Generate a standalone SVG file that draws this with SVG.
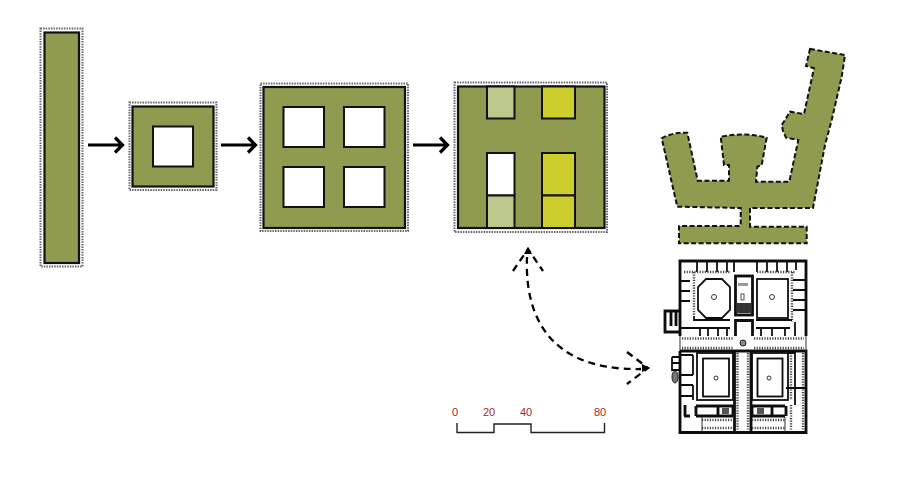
<svg xmlns="http://www.w3.org/2000/svg" width="914" height="484" viewBox="0 0 914 484">
<style>
.dot{fill:none;stroke:#666;stroke-width:2;stroke-dasharray:1.500 1.100}
.mass{fill:#919b4f;stroke:#111;stroke-width:2.200}
.hole{fill:#fff;stroke:#111;stroke-width:2}
.lt{fill:#bcc78c;stroke:#111;stroke-width:2}
.yl{fill:#cdcd2e;stroke:#111;stroke-width:2}
.arr{fill:none;stroke:#000;stroke-width:3.200}
.dash{fill:none;stroke:#000;stroke-width:2.300;stroke-dasharray:7 5}
.scale{fill:none;stroke:#222;stroke-width:1.400}
.num{font:11px "Liberation Sans",Arial,sans-serif;fill:#a32a25;text-anchor:middle}
.w{fill:none;stroke:#111;stroke-width:1.800}
.b{fill:none;stroke:#111;stroke-width:2.800}
.t{fill:none;stroke:#333;stroke-width:1}
.c{fill:none;stroke:#444;stroke-width:2.400;stroke-dasharray:1.200 1.400}
</style>
<defs><filter id="soft" x="-5%" y="-5%" width="110%" height="110%"><feGaussianBlur stdDeviation="0.4"/></filter></defs>
<g id="block-1"><rect class="dot" x="40.500" y="28.500" width="42" height="238"/><rect class="mass" x="44.500" y="32.500" width="34.500" height="230.500"/></g>
<g id="block-2"><rect class="dot" x="129.500" y="102.500" width="87" height="87.500"/><rect class="mass" x="132.500" y="106.500" width="81" height="80"/><rect class="hole" x="153" y="126.500" width="40" height="40"/></g>
<g id="block-3"><rect class="dot" x="260.500" y="83.500" width="147.500" height="147.500"/><rect class="mass" x="263.500" y="87" width="141.500" height="141"/><rect class="hole" x="283.500" y="107" width="40.500" height="40"/><rect class="hole" x="344" y="107" width="40.500" height="40"/><rect class="hole" x="283.500" y="167" width="40.500" height="40"/><rect class="hole" x="344" y="167" width="40.500" height="40"/></g>
<g id="block-4"><rect class="dot" x="454.500" y="82.500" width="152.500" height="149.500"/><rect class="mass" x="458" y="86.500" width="146.500" height="141.500"/><rect class="lt" x="487" y="86.500" width="27.500" height="32"/><rect class="yl" x="542" y="86.500" width="33" height="32"/><rect class="hole" x="487" y="153" width="27.500" height="42.500"/><rect class="lt" x="487" y="195.500" width="27.500" height="32.500"/><rect class="yl" x="542" y="153" width="33" height="42.500"/><rect class="yl" x="542" y="195.500" width="33" height="32.500"/></g>
<g id="site-outline"><path d="M810 49 L845 55 L841.700 76.700 L831.700 120 L825 145 L813 208 L750 208 L750 226.700 L806.700 226.700 L806.700 243.300 L679 243.300 L679 226 L740.700 226 L740.700 208 L677.300 206.700 L661.700 138.300 Q673 132 687.300 132.700 L697.700 180.700 L729 180.700 L729 165 L724 165 L720.700 136.700 Q745 132 766.700 137.700 L761.700 165 L757.300 166.700 L756 181.700 L789.300 181.700 L798.300 140 L786 137.700 L783 131 L781.700 125 L785 120 L790 111.700 L804 114 L814 68.300 L806 66 Z" fill="#919b4f" stroke="#111" stroke-width="2" stroke-dasharray="5 2.500"/></g>
<g id="floor-plan" filter="url(#soft)">
<path class="b" d="M680 336V261H806V336"/>
<path class="b" d="M680 351H806V432.500H680V351"/>
<path class="t" d="M680 336V351M806 336V351"/>
<path class="b" d="M680 311H665V332H680M671 311V326M676 311V326"/>
<path class="w" d="M672 357H680M672 357V370H680M672 363H680"/>
<ellipse cx="675" cy="377" rx="3" ry="6" fill="#777" stroke="#222"/>
<path class="w" d="M706 279H722L730 287V310L722 318H706L698 310V287Z"/>
<rect class="w" x="757" y="279" width="31" height="39"/>
<rect class="w" x="697" y="353" width="36" height="47"/>
<rect class="w" x="703" y="358.500" width="26" height="38"/>
<rect class="w" x="752" y="353" width="36" height="47"/>
<rect class="w" x="757.500" y="358.500" width="25" height="38"/>
<circle class="t" cx="714" cy="297" r="2.500"/><circle class="t" cx="772" cy="297" r="2.500"/><circle class="t" cx="716" cy="378" r="2"/><circle class="t" cx="769" cy="378" r="2"/>
<circle cx="743" cy="343" r="3" fill="#888" stroke="#222"/>
<path class="w" d="M697 261V272M707 261V272M717 261V272M727 261V272M734 261V272M757 261V272M767 261V272M777 261V272M787 261V272M796 261V270"/>
<path class="c" d="M684 272H730M757 272H795M694 272V316M792 272V322"/>
<path class="w" d="M680 281H690M680 291H690M680 301H690M793 280H806M793 290H806M793 300H806M793 310H806"/>
<rect class="b" x="735.500" y="276" width="17" height="39"/>
<rect x="736.500" y="303" width="15" height="10" fill="#333"/>
<path class="t" d="M738 308H750M743 303V313"/>
<rect x="741" y="294" width="3" height="6" fill="none" stroke="#555"/>
<rect x="738" y="283" width="10" height="3" fill="#999"/>
<path class="b" d="M735.500 336V320.500H752.500V336"/>
<path class="w" d="M694 316V320H730M680 328H730M756 328H790M756 320H792M700 328V336M708 328V336M718 328V336M727 328V336M761 328V336M772 328V336M785 328V336M795 322V336"/>
<path class="c" d="M682 338.500H734M754 338.500H804M682 348H734M754 348H804"/>
<path class="b" d="M734.500 351V432.500M751 351V432.500"/>
<path class="c" d="M737.500 353V431M748 353V431M791 353V400M791 405V431M803 353V431"/>
<path class="w" d="M693 355H680M693 355V375M680 375H693M680 385H693M680 396H693M693 385V400M788 353H795V405M786 388H806"/>
<path class="b" d="M696 406H733M752 406H785M696 406V416M718 406V416M733 406V416M752 416V406M772 406V416M786 406V416M696 416H733M752 416H785"/>
<rect x="722" y="408" width="7" height="6" fill="#555"/><rect x="757" y="408" width="7" height="6" fill="#555"/>
<path class="c" d="M702 420H732M752 420H785M702 428H732M752 428H785"/>
<path class="t" d="M702 417V432M785 417V432"/>
<path class="b" d="M685 405V416M684 416H690"/>
</g>
<g id="connectors">
<path class="arr" d="M88 145H122M115 137.500L122.500 145L115 152.500"/>
<path class="arr" d="M221 145H255M248 137.500L255.500 145L248 152.500"/>
<path class="arr" d="M413 145H447M440 137.500L447.500 145L440 152.500"/>
<path class="dash" d="M527 257C525 305 540 371 641 369"/>
<path class="dash" d="M513 271L528 249L543 271M627 352L648 368L627 384"/>
<path d="M528 247L524 254H532ZM650 368L642 364V372Z" fill="#000"/>
</g>
<g id="scale"><path class="scale" d="M457 423V432.500H494V424H531V432.500H604.500V423"/>
<text class="num" x="455" y="416">0</text><text class="num" x="489" y="416">20</text><text class="num" x="526" y="416">40</text><text class="num" x="600" y="416">80</text></g>
</svg>
